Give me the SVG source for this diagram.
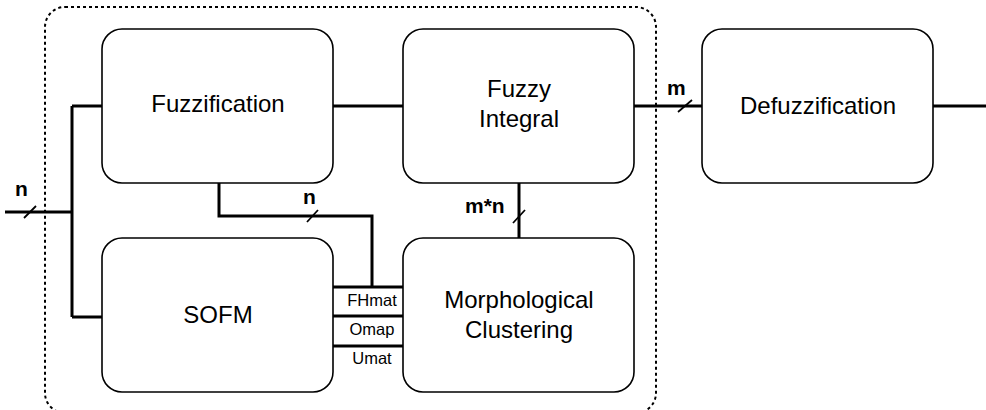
<svg xmlns="http://www.w3.org/2000/svg" width="986" height="410" viewBox="0 0 986 410">
<style>
.box{fill:#fff;stroke:#000;stroke-width:1.6}
.t{font-family:"Liberation Sans",Arial,sans-serif;font-size:24px;fill:#000;text-anchor:middle}
.s{font-family:"Liberation Sans",Arial,sans-serif;font-size:16.5px;fill:#000;text-anchor:middle}
.b{font-family:"Liberation Sans",Arial,sans-serif;font-size:21px;font-weight:bold;fill:#000}
.w{fill:none;stroke:#000;stroke-width:3}
.sl{stroke:#000;stroke-width:1.8}
</style>
<rect x="45" y="7" width="611" height="406" rx="20" fill="none" stroke="#000" stroke-width="2" stroke-dasharray="3,3"/>
<g id="connectors">
<path class="w" d="M5,212 H72 M72,106 V317 M72,106 H102 M72,317 H102"/>
<path class="w" d="M333,106 H403"/>
<path class="w" d="M634,106 H702"/>
<path class="w" d="M933,106 H986"/>
<path class="w" d="M219,183 V216 H372 V287"/>
<path class="w" d="M519,183 V238"/>
<path class="w" d="M333,287 H403 M333,316 H403 M333,346 H403"/>
<line class="sl" x1="24" y1="218" x2="36" y2="206"/>
<line class="sl" x1="307" y1="222" x2="318" y2="210"/>
<line class="sl" x1="513" y1="223" x2="525" y2="210"/>
<line class="sl" x1="678" y1="112" x2="692" y2="100"/>
<text class="b" x="15" y="196">n</text>
<text class="b" x="303" y="204">n</text>
<text class="b" x="465" y="213">m*n</text>
<text class="b" x="667" y="95">m</text>
<text class="s" x="372" y="306">FHmat</text>
<text class="s" x="372" y="335">Omap</text>
<text class="s" x="372" y="364">Umat</text>
</g>
<g id="fuzzification">
<rect class="box" x="102" y="29" width="231" height="154" rx="20"/>
<text class="t" x="218" y="112">Fuzzification</text>
</g>
<g id="fuzzy-integral">
<rect class="box" x="403" y="29" width="231" height="154" rx="20"/>
<text class="t" x="519" y="97">Fuzzy</text>
<text class="t" x="519" y="127">Integral</text>
</g>
<g id="defuzzification">
<rect class="box" x="702" y="29" width="231" height="154" rx="20"/>
<text class="t" x="818" y="114">Defuzzification</text>
</g>
<g id="sofm">
<rect class="box" x="102" y="238" width="231" height="154" rx="20"/>
<text class="t" x="218" y="323">SOFM</text>
</g>
<g id="morphological-clustering">
<rect class="box" x="403" y="238" width="231" height="154" rx="20"/>
<text class="t" x="519" y="308">Morphological</text>
<text class="t" x="519" y="338">Clustering</text>
</g>
</svg>
